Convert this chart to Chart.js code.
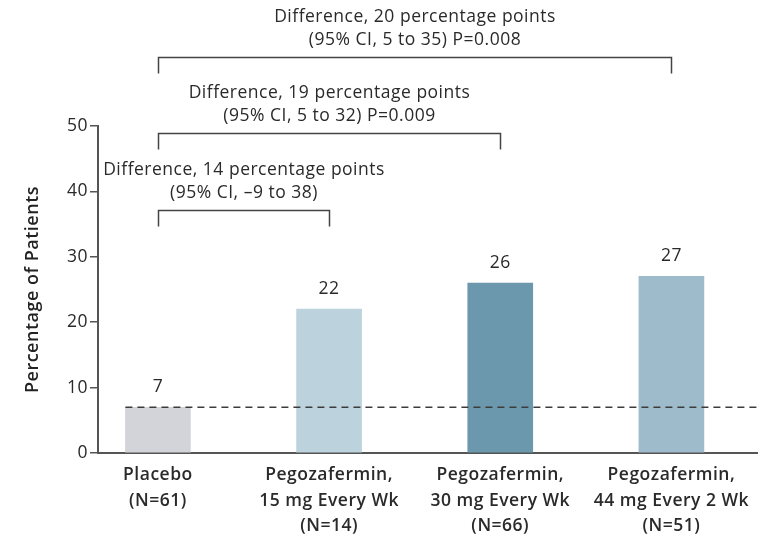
<!DOCTYPE html>
<html>
<head>
<meta charset="utf-8">
<script src="https://cdn.jsdelivr.net/npm/chart.js@4"></script>
<style>
  html, body { margin: 0; padding: 0; background: #ffffff; }
  canvas { display: block; }
</style>
</head>
<body>
<canvas id="chart" width="758" height="535"></canvas>
<script>
// Treatment groups and response rates
const groupLabels = [
  ["Placebo", "(N=61)"],
  ["Pegozafermin,", "15 mg Every Wk", "(N=14)"],
  ["Pegozafermin,", "30 mg Every Wk", "(N=66)"],
  ["Pegozafermin,", "44 mg Every 2 Wk", "(N=51)"]
];
const percentPatients = [7, 22, 26, 27];
const barColors = ["#d3d4d9", "#bcd3dd", "#6b98ad", "#9ebbcb"];
const yTickValues = [0, 10, 20, 30, 40, 50];

// Pairwise comparisons against placebo (group indices) and their annotations
const comparisonPairs = [[0, 3], [0, 2], [0, 1]];
const comparisonText = [
  ["Difference, 20 percentage points", "(95% CI, 5 to 35) P=0.008"],
  ["Difference, 19 percentage points", "(95% CI, 5 to 32) P=0.009"],
  ["Difference, 14 percentage points", "(95% CI, \u20139 to 38)"]
];

const FONT = "'Open Sans', 'DejaVu Sans', sans-serif";
const INK = "#2a2a2a";
const TRACKING = "0.5px";

// slightly open tracking for every label drawn on the canvas
const tracking = {
  id: "tracking",
  beforeLayout(chart) { chart.ctx.letterSpacing = TRACKING; },
  beforeDraw(chart) { chart.ctx.letterSpacing = TRACKING; }
};

const annotations = {
  id: "annotations",
  afterDatasetsDraw(chart, args, opts) {
    const { ctx, chartArea, scales: { x, y } } = chart;
    const meta = chart.getDatasetMeta(0);
    ctx.save();

    // placebo reference line
    const first = meta.data[0];
    const yRef = y.getPixelForValue(percentPatients[0]);
    ctx.strokeStyle = "#3c3c3c";
    ctx.lineWidth = 1.5;
    ctx.setLineDash([7, 5]);
    ctx.beginPath();
    ctx.moveTo(first.x - first.width / 2, yRef);
    ctx.lineTo(chartArea.right, yRef);
    ctx.stroke();
    ctx.setLineDash([]);

    // value labels above the bars
    ctx.fillStyle = INK;
    ctx.font = "17.5px " + FONT;
    ctx.textAlign = "center";
    ctx.textBaseline = "middle";
    meta.data.forEach((bar, i) => {
      ctx.fillText(String(percentPatients[i]), bar.x, bar.y - 20);
    });

    // comparison brackets
    ctx.strokeStyle = "#444444";
    ctx.lineWidth = 1.5;
    comparisonPairs.forEach((pair, k) => {
      const x0 = Math.round(x.getPixelForValue(pair[0])) + 0.5;
      const x1 = Math.round(x.getPixelForValue(pair[1])) + 0.5;
      const yb = Math.round(y.getPixelForValue(opts.levels[k])) + 0.5;
      ctx.beginPath();
      ctx.moveTo(x0, yb + opts.drop);
      ctx.lineTo(x0, yb);
      ctx.lineTo(x1, yb);
      ctx.lineTo(x1, yb + opts.drop);
      ctx.stroke();
      const cx = (x0 + x1) / 2;
      const lines = comparisonText[k];
      lines.forEach((t, j) => {
        ctx.fillText(t, cx, yb - 17 - (lines.length - 1 - j) * 23);
      });
    });

    ctx.restore();
  }
};

new Chart(document.getElementById("chart"), {
  type: "bar",
  data: {
    datasets: [{
      data: percentPatients.map((v, i) => ({ x: i, y: v })),
      backgroundColor: barColors,
      borderWidth: 0,
      barThickness: 65
    }]
  },
  options: {
    responsive: false,
    devicePixelRatio: 1,
    animation: false,
    events: [],
    layout: { padding: { top: 126, right: 1, left: 0, bottom: 0 } },
    plugins: {
      legend: { display: false },
      tooltip: { enabled: false },
      annotations: { levels: [60.5, 48.9, 37.2], drop: 16 }
    },
    scales: {
      x: {
        type: "linear",
        min: -0.35,
        max: 3.5,
        offset: false,
        grid: { display: false, offset: false },
        border: { display: true, color: "#555555", width: 2 },
        afterBuildTicks(scale) {
          scale.ticks = groupLabels.map((_, i) => ({ value: i }));
        },
        afterFit(scale) { scale.height = 82; },
        ticks: {
          autoSkip: false,
          maxRotation: 0,
          padding: 2,
          color: INK,
          font: { family: FONT, size: 17.5, weight: "600", lineHeight: 1.43 },
          callback: (v) => groupLabels[v]
        }
      },
      y: {
        min: 0,
        max: 50,
        afterBuildTicks(scale) {
          scale.ticks = yTickValues.map(v => ({ value: v }));
        },
        afterFit(scale) { scale.width = 98; },
        grid: {
          display: true,
          drawOnChartArea: false,
          drawTicks: true,
          tickLength: 8,
          color: "#555555",
          lineWidth: 1.5
        },
        border: { display: true, color: "#555555", width: 2 },
        ticks: {
          padding: 2,
          color: INK,
          font: { family: FONT, size: 17.5 }
        },
        title: {
          display: true,
          text: "Percentage of Patients",
          color: "#222222",
          padding: { top: 22, bottom: 0 },
          font: { family: FONT, size: 18, weight: "600" }
        }
      }
    }
  },
  plugins: [tracking, annotations]
});
</script>
</body>
</html>
